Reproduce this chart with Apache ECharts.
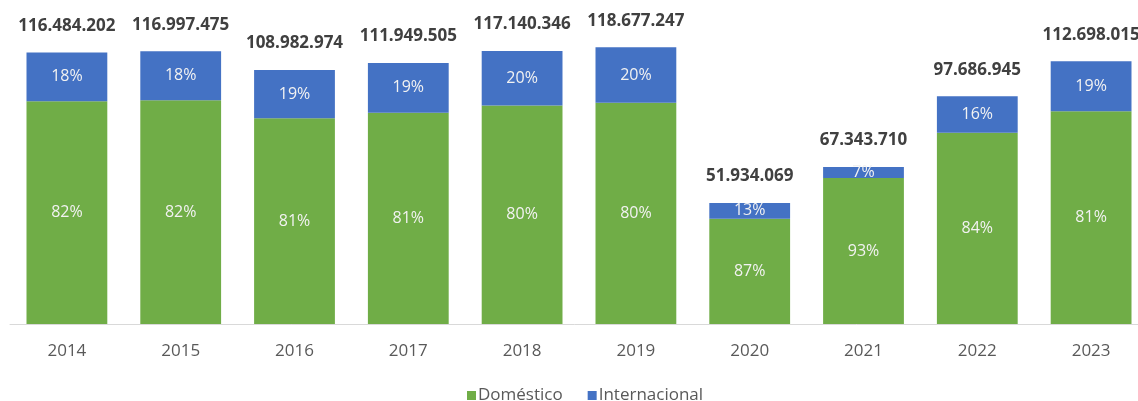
<!DOCTYPE html>
<html>
<head>
<meta charset="utf-8">
<script src="https://cdn.jsdelivr.net/npm/echarts@6/dist/echarts.min.js"></script>
<style>
  html, body { margin: 0; padding: 0; background: #ffffff; }
  #chart { width: 1138px; height: 401px; }
</style>
</head>
<body>
<div id="chart"></div>
<script>
// Passengers per year: total and share of international traffic (%)
const years = ['2014', '2015', '2016', '2017', '2018', '2019', '2020', '2021', '2022', '2023'];
const totals = [116484202, 116997475, 108982974, 111949505, 117140346, 118677247, 51934069, 67343710, 97686945, 112698015];
const domesticPct = [82, 82, 81, 81, 80, 80, 87, 93, 84, 81];
const internationalPct = [18, 18, 19, 19, 20, 20, 13, 7, 16, 19];

const fmtThousands = n => String(n).replace(/\B(?=(\d{3})+(?!\d))/g, '.');

const domestic = totals.map((t, i) => t * domesticPct[i] / 100);
const international = totals.map((t, i) => t * internationalPct[i] / 100);

const FONT = '"Open Sans", "Noto Sans", sans-serif';

const chart = echarts.init(document.getElementById('chart'), null, { renderer: 'canvas' });
chart.setOption({
  animation: false,
  textStyle: { fontFamily: FONT },
  grid: {
    left: 10, width: 1138, top: 0, bottom: 77,
    containLabel: false,
    outerBoundsMode: 'none'
  },
  legend: {
    top: 382,
    left: 462,
    itemWidth: 9,
    itemHeight: 9,
    itemGap: 25,
    icon: 'rect',
    textStyle: { fontSize: 17, color: '#595959', fontFamily: FONT, padding: [0, 0, 0, -3] },
    data: ['Doméstico', 'Internacional']
  },
  xAxis: {
    type: 'category',
    data: years,
    axisLine: { show: true, lineStyle: { color: '#d9d9d9', width: 1 } },
    axisTick: { show: false },
    axisLabel: { fontSize: 17, color: '#595959', margin: 19, fontFamily: FONT }
  },
  yAxis: {
    type: 'value',
    min: 0,
    max: 139000000,
    show: false,
    splitLine: { show: false }
  },
  series: [
    {
      name: 'Doméstico',
      type: 'bar',
      stack: 'total',
      barCategoryGap: '29%',
      itemStyle: { color: '#70AD47' },
      label: {
        show: true,
        position: 'inside',
        color: '#f2f2f2',
        fontSize: 16,
        fontFamily: FONT,
        formatter: p => domesticPct[p.dataIndex] + '%'
      },
      data: domestic
    },
    {
      name: 'Internacional',
      type: 'bar',
      stack: 'total',
      barCategoryGap: '29%',
      itemStyle: { color: '#4472C4' },
      label: {
        show: true,
        position: 'inside',
        color: '#f2f2f2',
        fontSize: 16,
        fontFamily: FONT,
        formatter: p => internationalPct[p.dataIndex] + '%'
      },
      data: international
    },
    {
      // invisible carrier for the total label above each stack
      name: 'Total',
      type: 'bar',
      stack: 'total',
      barCategoryGap: '29%',
      itemStyle: { color: 'transparent' },
      silent: true,
      label: {
        show: true,
        position: 'top',
        distance: 18,
        color: '#404040',
        fontSize: 17,
        fontWeight: 'bold',
        fontFamily: FONT,
        formatter: p => fmtThousands(totals[p.dataIndex])
      },
      data: totals.map(() => 0)
    }
  ]
});
</script>
</body>
</html>
